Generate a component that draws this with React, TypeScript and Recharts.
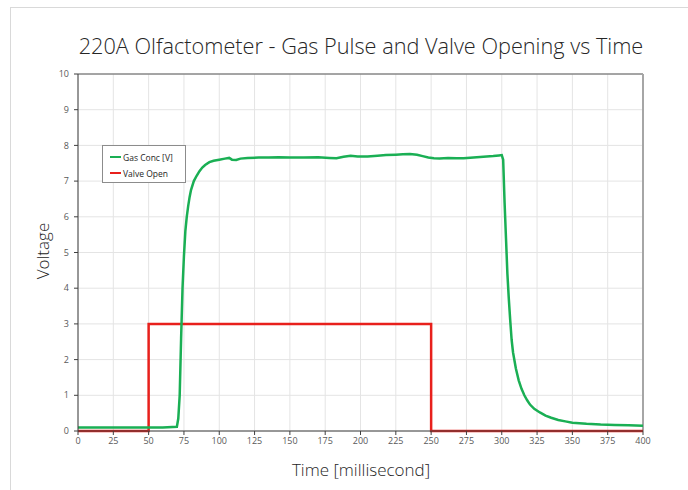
import React from 'react';
import {
  LineChart,
  Line,
  XAxis,
  YAxis,
  CartesianGrid,
  ReferenceLine,
} from 'recharts';

// ============================================================================
// DATA
// ============================================================================

const TITLE = '220A Olfactometer - Gas Pulse and Valve Opening vs Time';
const X_LABEL = 'Time [millisecond]';
const Y_LABEL = 'Voltage';

const X_TICKS = [0, 25, 50, 75, 100, 125, 150, 175, 200, 225, 250, 275, 300, 325, 350, 375, 400];
const Y_TICKS = [0, 1, 2, 3, 4, 5, 6, 7, 8, 9, 10];

// Gas concentration trace (ms, volts)
const GAS_TIME = [
  0, 10, 20, 30, 40, 50, 60, 70, 71, 72, 73, 74, 75, 76, 77, 78, 79, 80, 82, 84, 86, 88, 90, 93, 96,
  100, 104, 107, 109, 112, 115, 120, 128, 135, 142, 150, 160, 170, 178, 183, 188, 193, 198, 205,
  212, 218, 225, 230, 235, 240, 244, 248, 252, 256, 262, 268, 273, 280, 287, 294, 298, 300, 301,
  302, 303, 304, 305, 306, 307, 308, 310, 312, 314, 316, 318, 320, 323, 327, 331, 335, 340, 345,
  350, 360, 370, 380, 390, 400,
];
const GAS_VALUE = [
  0.1, 0.1, 0.1, 0.1, 0.1, 0.1, 0.1, 0.12, 0.35, 1.0, 2.6, 4.0, 4.9, 5.6, 6.0, 6.3, 6.55, 6.75, 7.0,
  7.15, 7.28, 7.38, 7.45, 7.53, 7.57, 7.6, 7.63, 7.65, 7.6, 7.59, 7.63, 7.65, 7.66, 7.66, 7.67,
  7.66, 7.66, 7.67, 7.65, 7.64, 7.68, 7.71, 7.69, 7.69, 7.71, 7.73, 7.74, 7.75, 7.76, 7.74, 7.7,
  7.66, 7.64, 7.63, 7.65, 7.64, 7.64, 7.66, 7.68, 7.7, 7.72, 7.73, 7.6, 6.4, 5.4, 4.4, 3.7, 3.1,
  2.55, 2.2, 1.75, 1.42, 1.18, 1.0, 0.86, 0.74, 0.62, 0.52, 0.43, 0.37, 0.31, 0.27, 0.23, 0.2,
  0.18, 0.17, 0.16, 0.15,
];

// Valve open signal (ms, volts)
const VALVE_TIME = [0, 50, 50, 250, 250, 400];
const VALVE_VALUE = [0, 0, 3, 3, 0, 0];

const gasData = GAS_TIME.map((t, i) => ({ t, v: GAS_VALUE[i] }));
const valveData = VALVE_TIME.map((t, i) => ({ t, v: VALVE_VALUE[i] }));

// ============================================================================
// CONSTANTS
// ============================================================================

const COLORS = {
  gas: '#1aaf54',
  valve: '#e8201c',
  grid: '#e4e4e4',
  axis: '#3f3f3f',
  tick: '#595959',
  text: '#262626',
};

const FONT = '"Open Sans", "Noto Sans", sans-serif';

const LEGEND_ITEMS = [
  { name: 'Gas Conc [V]', color: COLORS.gas },
  { name: 'Valve Open', color: COLORS.valve },
];

const LegendBox = () => (
  <div
    style={{
      position: 'absolute',
      left: 102,
      top: 145,
      border: '1px solid #8c8c8c',
      background: '#fff',
      width: 84,
      height: 38,
      boxSizing: 'border-box',
      padding: '3px 0 0 7px',
      fontFamily: FONT,
      fontSize: 8.5,
      color: COLORS.text,
    }}
  >
    {LEGEND_ITEMS.map((item) => (
      <div key={item.name} style={{ display: 'flex', alignItems: 'center', height: 16 }}>
        <div style={{ width: 11, height: 2.5, background: item.color, marginRight: 2 }} />
        <span>{item.name}</span>
      </div>
    ))}
  </div>
);

// ============================================================================
// COMPONENT
// ============================================================================

export default function App() {
  return (
    <div style={{ position: 'absolute', left: 0, top: 0, width: 688, height: 490, background: '#fff' }}>
      {/* frame */}
      <div
        style={{
          position: 'absolute',
          left: 10,
          top: 7,
          right: 0,
          bottom: 0,
          borderTop: '1.5px solid #d9d9d9',
          borderLeft: '1.5px solid #d9d9d9',
        }}
      />
      <div
        style={{
          position: 'absolute',
          left: 78,
          width: 566,
          top: 31,
          textAlign: 'center',
          fontFamily: FONT,
          fontSize: 21.7,
          fontWeight: 300,
          color: COLORS.text,
          whiteSpace: 'nowrap',
        }}
      >
        {TITLE}
      </div>
      <div
        style={{
          position: 'absolute',
          left: 42,
          top: 251,
          transform: 'translate(-50%, -50%) rotate(-90deg)',
          fontFamily: FONT,
          fontSize: 17,
          fontWeight: 300,
          color: COLORS.text,
          whiteSpace: 'nowrap',
        }}
      >
        {Y_LABEL}
      </div>
      <div
        style={{
          position: 'absolute',
          left: 78,
          width: 566,
          top: 458,
          textAlign: 'center',
          fontFamily: FONT,
          fontSize: 17,
          fontWeight: 300,
          color: COLORS.text,
          whiteSpace: 'nowrap',
        }}
      >
        {X_LABEL}
      </div>

      <div style={{ position: 'absolute', left: 0, top: 0 }}>
        <LineChart width={688} height={490} margin={{ top: 74, right: 45, left: 40, bottom: 29 }}>
          <CartesianGrid stroke={COLORS.grid} strokeWidth={1} />
          <XAxis
            dataKey="t"
            type="number"
            domain={[0, 400]}
            ticks={X_TICKS}
            allowDataOverflow
            height={30}
            stroke={COLORS.axis}
            tickSize={4}
            tickMargin={3}
            tick={{ fill: COLORS.tick, fontSize: 9, fontFamily: FONT }}
          />
          <YAxis
            type="number"
            domain={[0, 10]}
            ticks={Y_TICKS}
            width={38}
            stroke={COLORS.axis}
            tickSize={4}
            tickMargin={5}
            tick={{ fill: COLORS.tick, fontSize: 9, fontFamily: FONT }}
          />
          <ReferenceLine y={10} stroke="#595959" strokeWidth={1} />
          <ReferenceLine x={400} stroke="#a6a6a6" strokeWidth={2} />
          <Line
            data={valveData}
            dataKey="v"
            name="Valve Open"
            type="linear"
            stroke={COLORS.valve}
            strokeWidth={2.5}
            dot={false}
            isAnimationActive={false}
          />
          <Line
            data={gasData}
            dataKey="v"
            name="Gas Conc [V]"
            type="linear"
            stroke={COLORS.gas}
            strokeWidth={2.5}
            dot={false}
            isAnimationActive={false}
          />
        </LineChart>
      </div>
      <LegendBox />
    </div>
  );
}
